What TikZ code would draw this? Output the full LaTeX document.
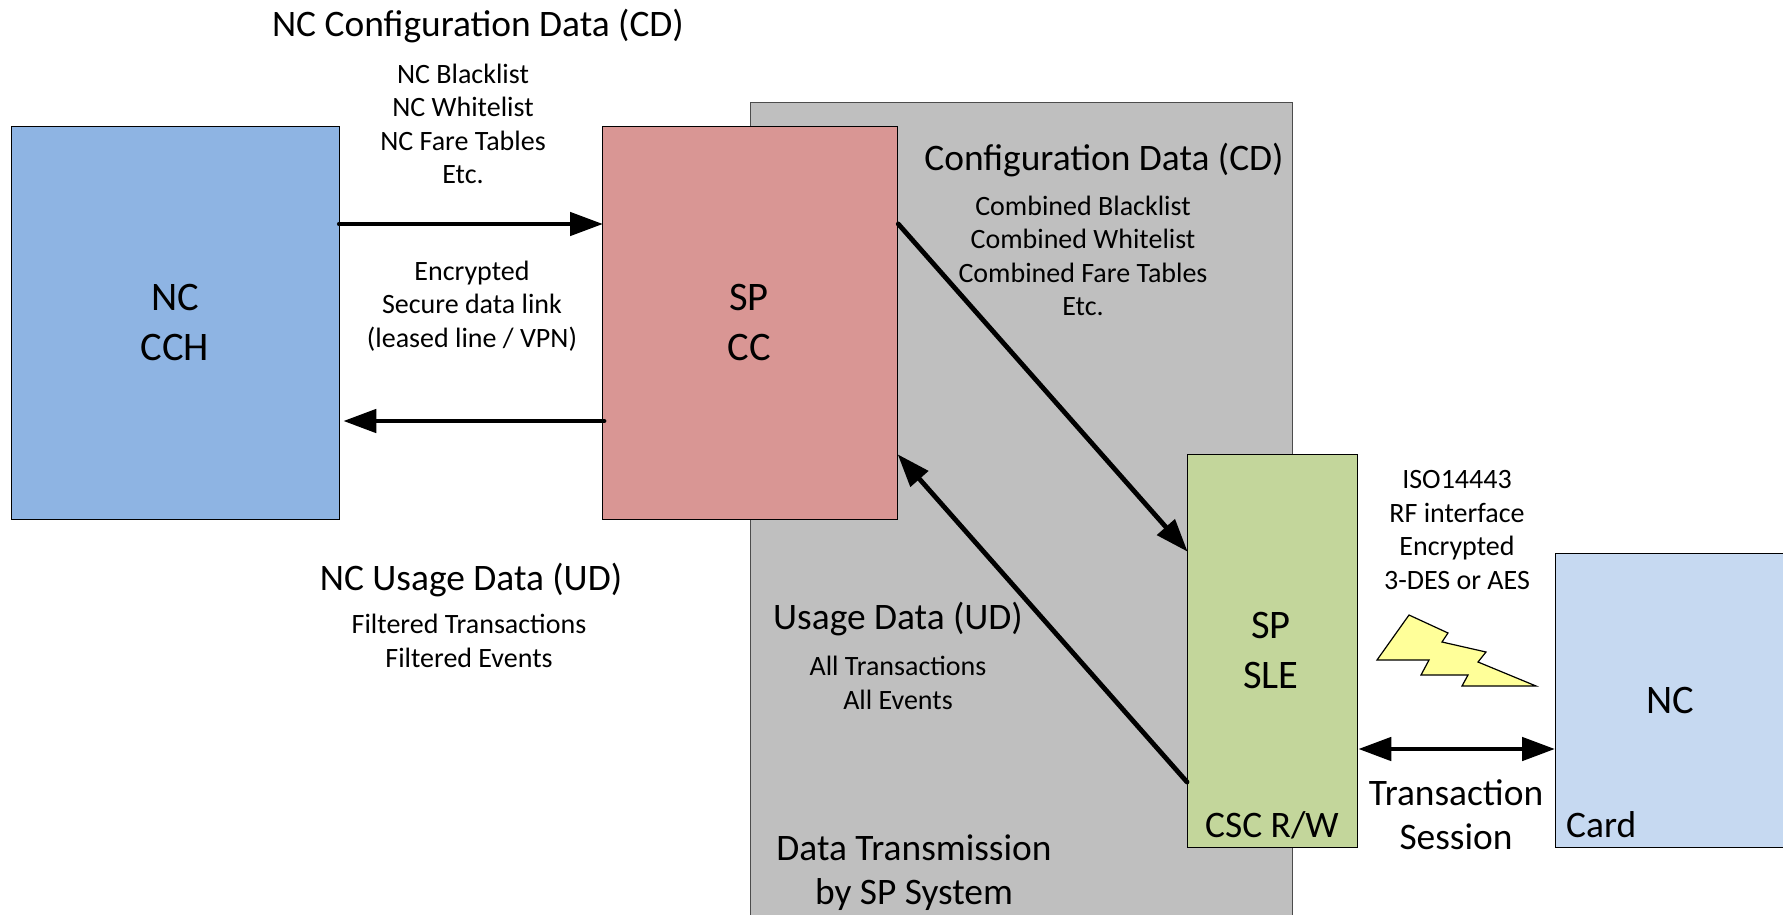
\documentclass[tikz,border=0pt]{standalone}
\usepackage{fontspec}
\setmainfont{Carlito}
\usetikzlibrary{arrows.meta}
\definecolor{cchblue}{HTML}{8EB4E3}
\definecolor{ccred}{HTML}{D99694}
\definecolor{slegreen}{HTML}{C3D69B}
\definecolor{cardblue}{HTML}{C6D9F1}
\definecolor{bggray}{HTML}{BFBFBF}
\definecolor{boltyellow}{HTML}{FFFF99}
\tikzset{
  x=1pt,y=-1pt,
  boxnode/.style={draw=black,line width=1.3pt,anchor=north west,inner sep=0pt},
  flow/.style={line width=4.8pt,line cap=round,-{Triangle[length=33pt,width=23pt]},shorten >=-1pt},
  flowboth/.style={line width=4.8pt,{Triangle[length=33pt,width=23pt]}-{Triangle[length=33pt,width=23pt]}},
  big/.style={font=\fontsize{40.5}{50}\selectfont,align=center,inner sep=0pt},
  head/.style={font=\fontsize{37.4}{44}\selectfont,align=center,inner sep=0pt},
  small/.style={font=\fontsize{28}{33.4}\selectfont,align=center,inner sep=0pt},
}
\begin{document}
\begin{tikzpicture}
\useasboundingbox (0,0) rectangle (1783,915);
\node[boxnode,fill=bggray,draw=black!70,minimum width=542pt,minimum height=830pt] (bg) at (750,102) {};
\node[boxnode,fill=cchblue,minimum width=328pt,minimum height=393pt] (cch) at (11,126) {};
\node[boxnode,fill=ccred,minimum width=295pt,minimum height=393pt] (cc) at (602,126) {};
\node[boxnode,fill=slegreen,minimum width=170pt,minimum height=393pt] (sle) at (1187,454) {};
\node[boxnode,fill=cardblue,minimum width=240pt,minimum height=294pt] (card) at (1555,553) {};
\node[big] (cchl) at (175,322) {NC\\CCH};
\node[big] (ccl) at (749,322) {SP\\CC};
\node[big] (slel) at (1271,650) {SP\\SLE};
\node[big] (cardl) at (1670,700) {NC};
\node[head] (rw) at (1272,825) {CSC R/W};
\node[head,anchor=west] (cardt) at (1566,825) {Card};
\node[head] (ncd) at (478,26) {NC Configuration Data (CD)};
\node[small] (ncl) at (463,124) {NC Blacklist\\NC Whitelist\\NC Fare Tables\\Etc.};
\node[small] (enc) at (472,306) {Encrypted\\Secure data link\\(leased line / VPN)};
\node[head] (nud) at (471,580) {NC Usage Data (UD)};
\node[small] (fil) at (469,641) {Filtered Transactions\\Filtered Events};
\node[head] (cd) at (1104,160) {Configuration Data (CD)};
\node[small] (com) at (1083,256) {Combined Blacklist\\Combined Whitelist\\Combined Fare Tables\\Etc.};
\node[head] (ud) at (898,619) {Usage Data (UD)};
\node[small] (all) at (898,683) {All Transactions\\All Events};
\node[head] (dt) at (914,873) {Data Transmission\\by SP System};
\node[small] (iso) at (1457,530) {ISO14443\\RF interface\\Encrypted\\3-DES or AES};
\node[head] (ts) at (1456,815) {Transaction\\Session};
\draw[line width=1.2pt,fill=boltyellow,line join=miter] (1409,615) -- (1448,633) -- (1442,642) -- (1486,652) -- (1478,662) -- (1536,686) -- (1462,686) -- (1468,675) -- (1421,675) -- (1429,660) -- (1377,660) -- cycle;
\draw[flow] ([yshift=-98pt,xshift=-1pt]cch.north east) -- ([yshift=-98pt]cc.north west);
\draw[flow] ([yshift=-295pt,xshift=2pt]cc.north west) -- ([yshift=-295pt,xshift=4pt]cch.north east);
\draw[flow] ([yshift=-98pt]cc.north east) -- ([yshift=-97pt]sle.north west);
\draw[flow] ([yshift=-328pt]sle.north west) -- ([yshift=-329pt]cc.north east);
\draw[flowboth] ([yshift=-295pt]sle.north east) -- ([yshift=-196pt]card.north west);
\end{tikzpicture}
\end{document}
